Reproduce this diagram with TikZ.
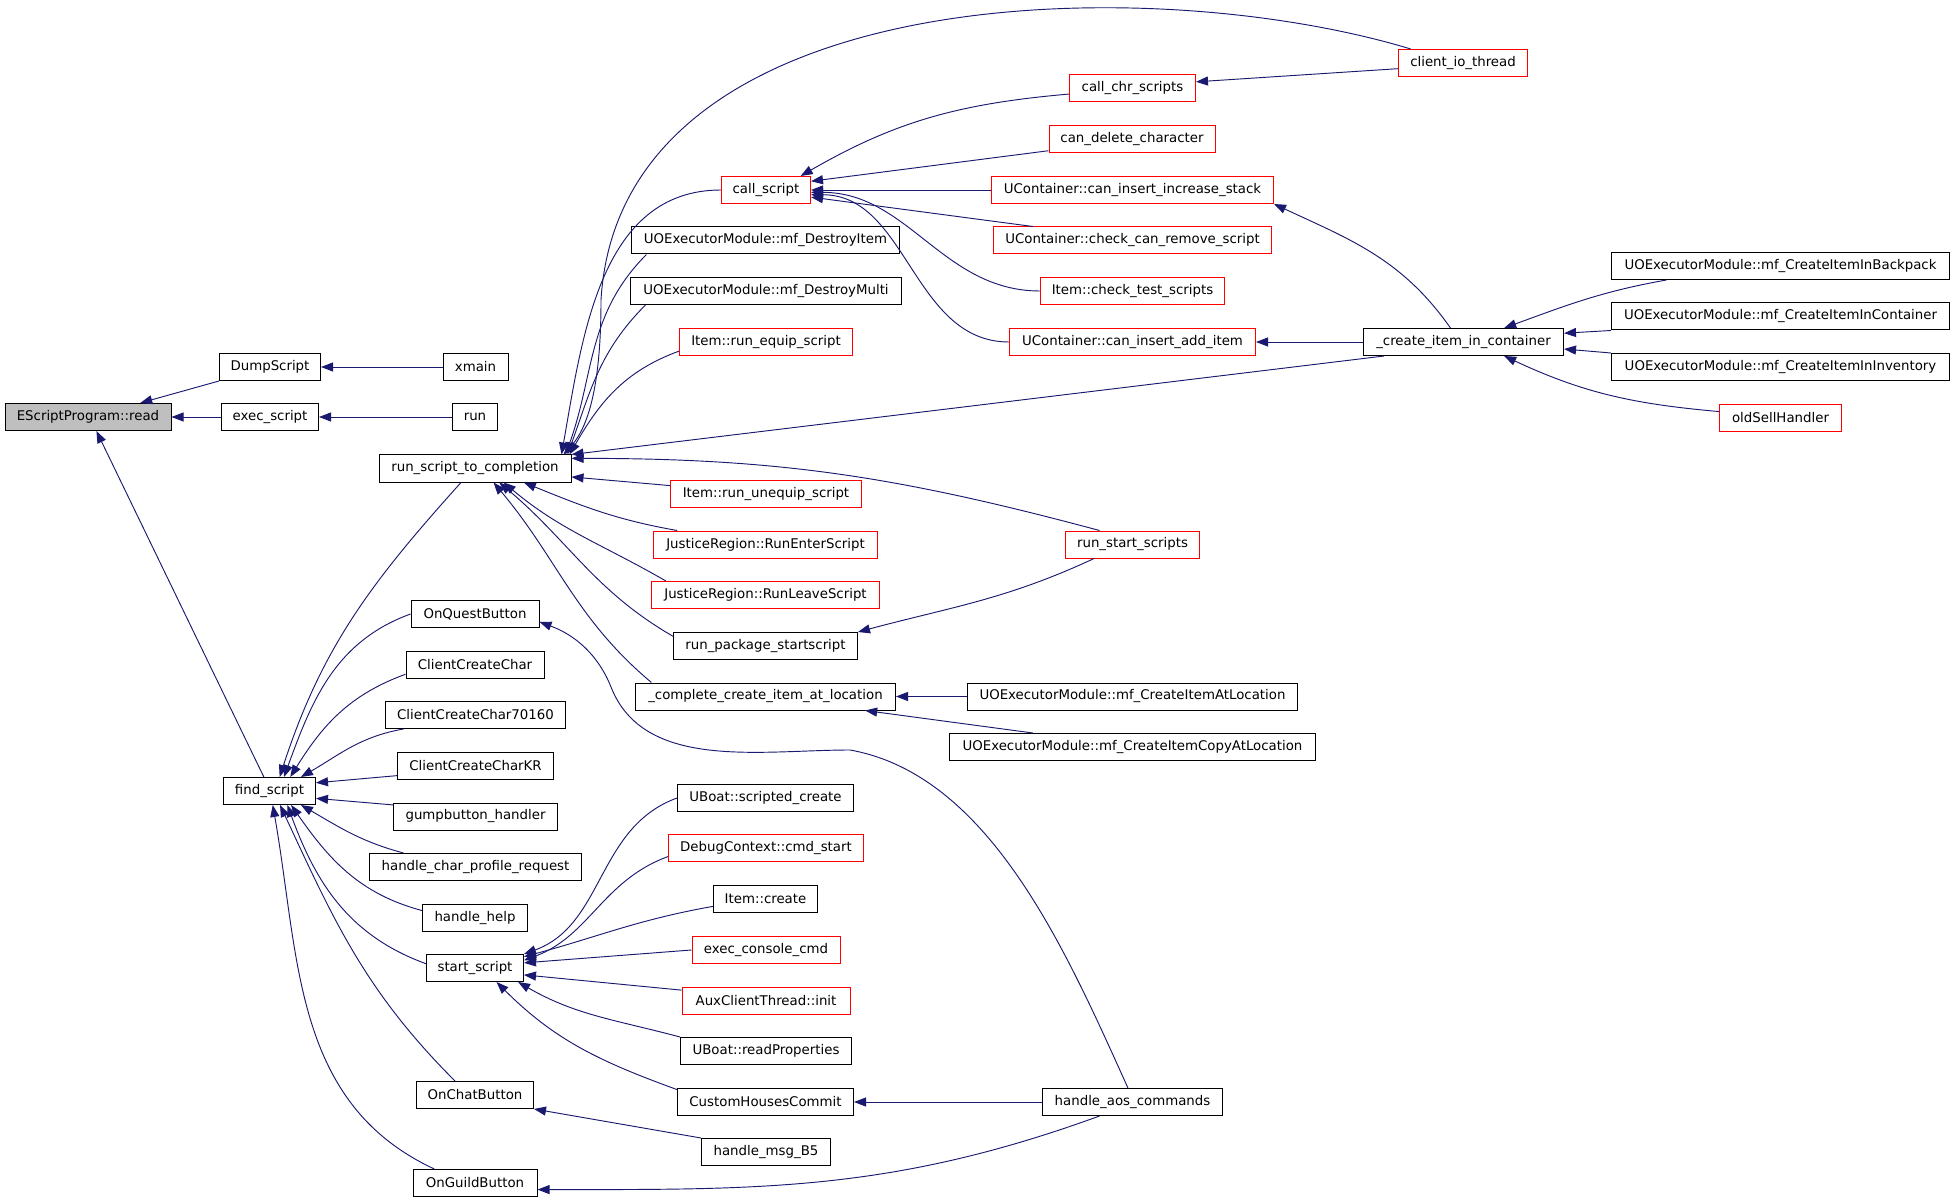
\documentclass[tikz,border=0pt]{standalone}
\usepackage{fontspec}
\setmainfont{DejaVu Sans}
\usepackage{tikz}
\usetikzlibrary{arrows.meta}

\definecolor{edgeblue}{HTML}{191970}
\definecolor{boxgray}{HTML}{BFBFBF}

\begin{document}
\begin{tikzpicture}[x=0.75pt, y=0.75pt,
    fn/.style={draw=black, line width=0.75pt, rectangle, inner sep=0pt,
        minimum height=20.25pt, minimum width=#1*0.75pt, font=\fontsize{10}{12}\selectfont},
    fnred/.style={fn=#1, draw=red},
    fnroot/.style={fn=#1, fill=boxgray},
    call/.style={->, draw=edgeblue, line width=0.7pt},
    >={Triangle[length=9pt, width=6.75pt]}]
					% Fix the page to the size of the graph
					\path[use as bounding box, fill=white] (0,0) rectangle (1955,-1201);

					% Draw the function that is called, and its direct callers
					\node[fnroot=166] (read) at (88,-417) {EScriptProgram::read};
					\node[fn=101] (dump) at (270,-367) {DumpScript};
					\node[fn=97] (execs) at (270,-417) {exec\_script};
					\node[fn=92] (findsc) at (269.5,-791) {find\_script};

					% Draw the third column
					\node[fn=65] (xmain) at (475.5,-367) {xmain};
					\node[fn=45] (run) at (475,-417) {run};
					\node[fn=192] (rstc) at (475,-468.5) {run\_script\_to\_completion};
					\node[fn=128] (quest) at (475,-614) {OnQuestButton};
					\node[fn=138] (ccc) at (475,-664.5) {ClientCreateChar};
					\node[fn=180] (ccc7) at (475.5,-715) {ClientCreateChar70160};
					\node[fn=156] (ccckr) at (475.5,-766) {ClientCreateCharKR};
					\node[fn=164] (gump) at (475.5,-816.5) {gumpbutton\_handler};
					\node[fn=212] (profile) at (475.5,-867) {handle\_char\_profile\_request};
					\node[fn=105] (help) at (475,-918) {handle\_help};
					\node[fn=97] (start) at (475,-968) {start\_script};
					\node[fn=117] (chat) at (475,-1095) {OnChatButton};
					\node[fn=124] (guild) at (475,-1183) {OnGuildButton};

					% Draw the fourth column
					\node[fnred=89] (callsc) at (766,-190) {call\_script};
					\node[fn=268] (destroyitem) at (765.5,-240.5) {UOExecutorModule::mf\_DestroyItem};
					\node[fn=271] (destroymulti) at (766,-291) {UOExecutorModule::mf\_DestroyMulti};
					\node[fnred=173] (equip) at (766,-342) {Item::run\_equip\_script};
					\node[fnred=191] (unequip) at (766,-494) {Item::run\_unequip\_script};
					\node[fnred=224] (enter) at (765.5,-544.5) {JusticeRegion::RunEnterScript};
					\node[fnred=228] (leave) at (765.5,-595) {JusticeRegion::RunLeaveScript};
					\node[fn=184] (pkg) at (765.5,-646) {run\_package\_startscript};
					\node[fn=260] (complete) at (765.5,-696.5) {\_complete\_create\_item\_at\_location};
					\node[fn=176] (scripted) at (765.5,-798) {UBoat::scripted\_create};
					\node[fnred=195] (cmdstart) at (766,-848) {DebugContext::cmd\_start};
					\node[fn=104] (itemcreate) at (765.5,-899) {Item::create};
					\node[fnred=148] (console) at (766,-950) {exec\_console\_cmd};
					\node[fnred=168] (aux) at (766,-1000.5) {AuxClientThread::init};
					\node[fn=171] (readprops) at (766,-1051) {UBoat::readProperties};
					\node[fn=176] (chc) at (765.5,-1102) {CustomHousesCommit};
					\node[fn=129] (b5) at (766,-1152) {handle\_msg\_B5};

					% Draw the fifth column
					\node[fnred=126] (chr) at (1132.5,-88.5) {call\_chr\_scripts};
					\node[fnred=166] (candelete) at (1132,-139) {can\_delete\_character};
					\node[fnred=282] (incstack) at (1132.5,-190) {UContainer::can\_insert\_increase\_stack};
					\node[fnred=278] (remove) at (1132.5,-240.5) {UContainer::check\_can\_remove\_script};
					\node[fnred=184] (testsc) at (1132.5,-291) {Item::check\_test\_scripts};
					\node[fnred=246] (additem) at (1132.5,-342) {UContainer::can\_insert\_add\_item};
					\node[fnred=134] (startscripts) at (1132.5,-544.5) {run\_start\_scripts};
					\node[fn=330] (createat) at (1132.5,-696.5) {UOExecutorModule::mf\_CreateItemAtLocation};
					\node[fn=366] (copyat) at (1132.5,-747) {UOExecutorModule::mf\_CreateItemCopyAtLocation};
					\node[fn=180] (aos) at (1132.5,-1102) {handle\_aos\_commands};

					% Draw the last two columns
					\node[fnred=129] (clientio) at (1463,-63) {client\_io\_thread};
					\node[fn=200] (cic) at (1463.5,-342) {\_create\_item\_in\_container};
					\node[fn=338] (backpack) at (1780.5,-266) {UOExecutorModule::mf\_CreateItemInBackpack};
					\node[fn=338] (incontainer) at (1780.5,-316.5) {UOExecutorModule::mf\_CreateItemInContainer};
					\node[fn=338] (ininventory) at (1780.5,-367) {UOExecutorModule::mf\_CreateItemInInventory};
					\node[fnred=122] (oldsell) at (1780.5,-418) {oldSellHandler};

					% Draw calls into EScriptProgram::read
					\draw[call] (dump.south west) -- (read.15);
					\draw[call] (execs.west) -- (read.east);
					\draw[call] (findsc.112) -- (read.-59);
					\draw[call] (xmain.west) -- (dump.east);
					\draw[call] (run.west) -- (execs.east);

					% Draw calls into find_script
					\draw[call] ([xshift=-10.5pt]rstc.south) to[out=228, in=72] (findsc.54);
					\draw[call] (quest.west) to[out=200, in=70] (findsc.44);
					\draw[call] (ccc.188) to[out=200, in=58] (findsc.34);
					\draw[call] (ccc7.191) to[out=190, in=30] (findsc.24);
					\draw[call] (ccckr.187) -- (findsc.10);
					\draw[call] (gump.172) -- (findsc.-9);
					\draw[call] (profile.169) to[out=165, in=-30] (findsc.-24);
					\draw[call] (help.172) to[out=165, in=-55] (findsc.-33);
					\draw[call] (start.175) to[out=160, in=-70] (findsc.-38);
					\draw[call] (chat.145) to[out=135, in=-65] (findsc.-53);
					\draw[call] (guild.161) to[out=155, in=-80] (findsc.-77);

					% Draw calls into run_script_to_completion
					\draw[call] (callsc.west) to[out=180, in=80] ([xshift=-7.5pt]rstc.north east);
					\draw[call] (clientio.165) .. controls (1150,30) and (620,20) .. (601,-300)
						.. controls (601,-380) and (590,-425) .. ([xshift=-6pt]rstc.north east);
					\draw[call] ([xshift=11.6pt]destroyitem.south west) to[out=225, in=70] ([xshift=-4.5pt]rstc.north east);
					\draw[call] ([xshift=11.6pt]destroymulti.south west) to[out=225, in=70] ([xshift=-3pt]rstc.north east);
					\draw[call] (equip.186) to[out=200, in=60] ([xshift=-1.5pt]rstc.north east);
					\draw[call] (cic.190) -- (rstc.north east);
					\draw[call] (startscripts.157) to[out=165, in=0] (rstc.6);
					\draw[call] (unequip.175) -- (rstc.-5);
					\draw[call] (enter.171) to[out=170, in=-22] (rstc.-16);
					\draw[call] (leave.172) to[out=150, in=-40] (rstc.-26);
					\draw[call] (pkg.174) to[out=150, in=-40] (rstc.-30);
					\draw[call] (complete.173) to[out=140, in=-50] (rstc.-37);

					% Draw calls into call_script
					\draw[call] (chr.185) to[out=185, in=30] (callsc.22);
					\draw[call] (candelete.188) -- (callsc.11);
					\draw[call] (incstack.west) -- (callsc.east);
					\draw[call] (remove.172) -- (callsc.-9);
					\draw[call] (testsc.west) to[out=180, in=0] (callsc.-3);
					\draw[call] (additem.west) to[out=180, in=0] (callsc.-6);
					\draw[call] (clientio.185) -- (chr.6);

					% Draw calls into _create_item_in_container and its callees
					\draw[call] (cic.133) to[out=125, in=-25] (incstack.south east);
					\draw[call] (cic.west) -- (additem.east);
					\draw[call] (backpack.187) to[out=190, in=20] (cic.19);
					\draw[call] (incontainer.south west) -- (cic.5);
					\draw[call] (ininventory.north west) -- (cic.-4);
					\draw[call] (oldsell.174) to[out=175, in=-25] (cic.-19);

					% Draw the remaining calls in the middle
					\draw[call] (startscripts.200) to[out=205, in=15] (pkg.north east);
					\draw[call] (createat.west) -- (complete.east);
					\draw[call] (copyat.172) -- (complete.-8);

					% Draw calls from handle_aos_commands
					\draw[call] (aos.108) .. controls (1066,-951) and (990,-775) .. (850,-750)
						.. controls (760,-750) and (644,-771) .. (611,-687)
						.. controls (598,-654.5) and (575,-635) .. (quest.-7);
					\draw[call] (aos.west) -- (chc.east);
					\draw[call] (aos.203) to[out=200, in=0] (guild.-6);
					\draw[call] (b5.north west) -- (chat.south east);

					% Draw calls into start_script
					\draw[call] (scripted.west) to[out=200, in=20] (start.north east);
					\draw[call] (cmdstart.185) to[out=200, in=20] (start.9);
					\draw[call] (itemcreate.188) to[out=190, in=15] (start.13);
					\draw[call] (console.west) -- (start.6);
					\draw[call] (aux.173) -- (start.-8);
					\draw[call] (readprops.north west) to[out=165, in=-30] (start.-18);
					\draw[call] (chc.172) to[out=160, in=-45] (start.-33);
\end{tikzpicture}
\end{document}
